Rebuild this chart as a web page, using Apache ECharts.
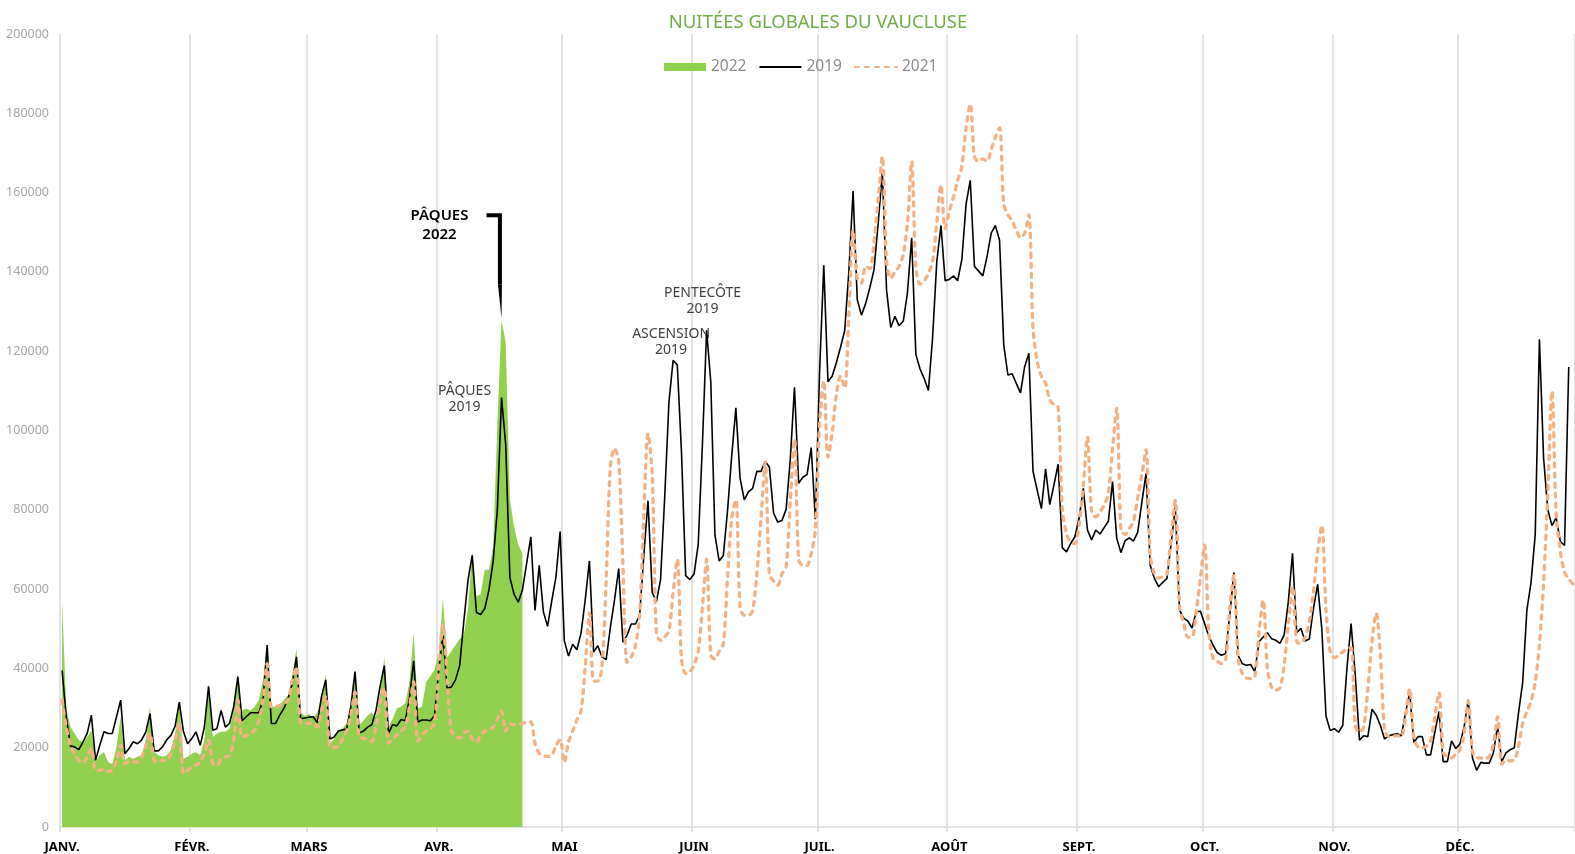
<!DOCTYPE html>
<html><head><meta charset="utf-8">
<script src="https://cdn.jsdelivr.net/npm/echarts@6.0.0/dist/echarts.min.js"></script>
<style>html,body{margin:0;padding:0;background:#fff}#c{width:1575px;height:854px}</style>
</head><body><div id="c"></div>
<script>
const monthLabels = ['JANV.','FÉVR.','MARS','AVR.','MAI','JUIN','JUIL.','AOÛT','SEPT.','OCT.','NOV.','DÉC.'];
const monthStart = [0,31,59,90,120,151,181,212,243,273,304,334];
const nDays = 362;

const values2022 = [
57000,30000,25200,23600,21900,21500,22700,
24400,16400,18100,18900,16400,15800,20200,
27800,16800,17700,17200,17700,18100,21900,
30300,18900,18100,17700,18100,19400,23600,
31100,17200,17700,18500,18900,18100,21900,
35800,22700,23600,24000,24000,24800,29400,
38700,29400,29900,29400,30300,32000,37000,
45000,30300,30300,30700,32000,33200,37900,
45000,29000,28000,28500,27500,28900,32500,
38600,21100,22200,24200,24700,26300,30400,
38600,25800,26800,28100,28900,27800,33500,
42800,25200,27300,29900,30400,31200,36600,
49000,29900,30400,36600,38100,39700,43800,
57700,42800,44300,45900,47400,48400,55100,
69600,58200,58700,64900,64900,70600,101500,
127800,122100,82400,75800,71100,69000
];

const values2019 = [
39500,27800,20400,20200,19500,21500,23600,
28200,16800,20600,24000,23600,23600,27800,
32000,18500,19800,21500,21000,21900,24000,
28600,19200,19200,20200,22000,23100,25400,
31500,24000,21000,22300,24000,20600,25200,
35500,24400,24800,29400,25200,26100,30300,
37900,26800,27800,28800,28800,28800,32000,
45900,26100,26100,28200,29900,32400,36200,
42900,27300,27500,27700,27800,26300,33000,
37100,22200,22700,24200,24500,24700,30400,
39200,23700,24200,25200,25800,29400,35600,
40700,23700,25800,25500,27100,26800,32500,
41900,26500,27000,27000,26800,28100,39700,
48400,35000,35300,37100,40700,52000,62300,
68500,54100,53600,55100,59800,67000,80000,
108300,96400,62900,58700,56700,59800,66500,
73200,54600,66000,54300,50600,57000,63000,
74500,47000,43100,46100,44700,48900,57300,
67100,44100,45700,42900,42200,50300,57300,
65200,46600,48400,51200,51200,53400,68500,
82300,59200,56800,62400,83400,107100,117700,
116500,94600,63400,62400,63800,71300,96400,
125300,112300,73600,67100,68500,79700,93600,
105700,88000,82500,84500,85400,89700,89700,
92200,90800,79200,76900,77300,80100,92700,
110900,86700,88200,88900,95700,77600,115000,
141700,112300,113700,117100,121000,125200,140200,
160400,133000,129100,132000,136000,140500,152300,
165300,135400,126000,128800,126400,127600,134800,
148600,119200,115500,113100,110100,123400,142600,
151700,137800,138100,139000,137800,143200,157100,
163100,141400,140200,139000,143800,149800,151700,
148000,121600,114000,114300,111900,109500,116100,
119500,89700,84900,80300,90300,81300,86300,
91500,70400,69400,71500,73200,77800,85400,
74900,72400,74900,73900,75500,77100,87100,
72800,69200,72200,72900,72100,74300,81900,
89200,66000,62700,60600,61700,62700,71500,
80800,54700,52700,51900,50200,54300,54400,
51300,48200,45900,44000,43300,43700,53400,
64200,43300,41200,40800,41000,39100,46700,
47900,49000,47500,47100,46300,48400,56800,
69000,49000,50100,46900,47400,55100,61200,
50000,28000,24300,24800,23900,25600,40000,
51300,38200,21900,23000,22800,29700,28200,
25600,22200,23000,23300,23500,23000,28700,
33900,21300,22800,22800,18200,18200,23900,
29100,16500,16500,21700,19800,20900,25200,
32100,17400,14300,16300,16100,16100,18700,
25600,16500,18700,19500,20000,28700,36500,
54700,61700,73800,123000,93000,80000,76000,
78000,72000,71000,116000
];

const values2021 = [
32000,25200,20600,18500,16800,16200,17700,
19800,14300,14300,14700,14100,14300,16800,
20600,16000,16400,16400,16400,17700,20200,
23600,16800,16400,16800,16800,18500,21900,
26100,13500,14300,15100,15600,16400,18500,
21900,16000,15600,17200,17700,18100,21900,
32000,22700,23100,23600,24400,26900,32000,
41200,30300,30300,30700,31100,32000,37000,
40400,26300,26100,26100,26300,25200,29400,
33000,20100,20100,20300,22200,24200,28300,
34000,22700,22400,22000,21600,25200,31400,
35000,21100,22200,23200,24200,25200,30400,
36600,21600,23200,24200,24700,26300,39700,
51000,37600,24200,23000,22400,23700,24200,
22200,21300,23200,24200,24700,25200,27300,
29200,24200,26000,25800,26000,26100,26500,
26500,21100,18600,18000,17800,18000,20500,
22000,16300,21400,24200,27000,29300,40500,
54000,36800,36800,40500,62000,90800,95500,
92200,66600,41500,42900,45700,53600,78700,
99200,89000,48900,47000,48000,49400,59200,
67500,42400,38700,39100,41000,44300,55400,
67500,43300,42400,44300,46100,62900,77800,
82500,55400,53400,53400,54500,63800,77800,
92000,63800,62000,61000,63800,65700,82500,
97800,67500,66000,66000,69000,75000,101700,
112500,93300,99300,108900,113700,110700,129400,
150500,138400,137200,141400,140800,147400,158300,
169100,142600,138400,140000,141400,144400,152300,
167900,141400,136900,137800,139600,142600,152300,
161900,151000,155300,158900,163100,166700,176300,
182300,169100,167900,168500,167900,170900,173900,
176300,157100,154400,152900,150500,148600,149800,
154400,125800,117400,113700,111900,107700,106500,
105900,80000,74000,71800,71500,76100,86200,
98400,79500,78200,79500,81200,84100,95500,
105600,74900,73800,75300,77000,82900,88800,
95100,68600,63900,62800,63100,63900,73600,
82400,55900,51300,47900,47900,54300,62700,
71100,49200,42600,41800,41200,42100,55100,
63500,42500,38700,37600,37400,37900,49200,
57200,40000,35300,34500,35100,40800,50900,
60600,46700,46300,47900,51700,59300,69400,
76100,55000,44300,42700,43300,44100,45000,
45200,25600,23900,25200,34800,46900,53900,
43400,24500,22800,23000,23000,22800,27800,
34800,22400,20200,20000,20400,21700,27800,
33900,18700,17800,17400,18400,19500,23500,
31700,19100,17500,17400,17200,17800,20900,
27800,15800,16900,16700,16900,20400,26100,
29100,31700,36500,46000,61700,84300,109900,
79100,69500,64300,62600,61300
];

const categories = [];
for (let i = 0; i < nDays; i++) {
  const d = new Date(2021, 0, 1 + i);
  categories.push(String(d.getDate()).padStart(2,'0') + '/' + String(d.getMonth()+1).padStart(2,'0'));
}
const isMonthStart = (i) => monthStart.indexOf(i) >= 0;

const FONT = '"Noto Sans", "DejaVu Sans", sans-serif';
const chart = echarts.init(document.getElementById('c'), null, {renderer: 'canvas'});
const option = {
  animation: false,
  backgroundColor: '#ffffff',
  title: {
    text: 'NUITÉES GLOBALES DU VAUCLUSE',
    left: 813, textAlign: 'center', top: 8,
    textStyle: {color: '#70AD47', fontSize: 18.5, fontWeight: 'normal', fontFamily: FONT}
  },
  legend: {
    left: 659, top: 54,
    itemWidth: 42, itemHeight: 8, itemGap: 12,
    textStyle: {color: '#8A8A8A', fontSize: 15.5, fontFamily: FONT},
    data: [
      {name: '2022', icon: 'rect'},
      {name: '2019', itemStyle: {opacity: 0}},
      {name: '2021', itemStyle: {opacity: 0}}
    ]
  },
  grid: {left: 60, right: 0, top: 34, bottom: 27, containLabel: false, outerBoundsMode: 'none'},
  xAxis: {
    type: 'category', data: categories, boundaryGap: true,
    axisLine: {show: true, lineStyle: {color: '#D9D9D9', width: 1.5}},
    axisTick: {show: true, interval: (i) => isMonthStart(i), length: 5, lineStyle: {color: '#D9D9D9', width: 1.5}},
    axisLabel: {
      interval: (i) => isMonthStart(i),
      formatter: (v, i) => monthLabels[monthStart.indexOf(i)] || '',
      color: '#000', fontWeight: 'bold', fontSize: 13, fontFamily: FONT, margin: 14
    },
    splitLine: {show: true, interval: (i) => isMonthStart(i), lineStyle: {color: '#D9D9D9', width: 1.5}}
  },
  yAxis: {
    type: 'value', min: 0, max: 200000, interval: 20000,
    axisLine: {show: false}, axisTick: {show: false}, splitLine: {show: false},
    axisLabel: {formatter: (v) => String(v), color: '#A6A6A6', fontSize: 12.5, fontFamily: FONT, margin: 11}
  },
  series: [
    {name: '2022', type: 'line', data: values2022, symbol: 'none', z: 1,
     lineStyle: {width: 0, color: '#92D050'}, itemStyle: {color: '#92D050'},
     areaStyle: {color: '#92D050', opacity: 1}},
    {name: '2019', type: 'line', data: values2019, symbol: 'none', z: 2,
     lineStyle: {color: '#000000', width: 1.6}, itemStyle: {color: '#000000'}},
    {name: '2021', type: 'line', data: values2021, symbol: 'none', z: 3, smooth: 0.3,
     lineStyle: {color: '#F4B183', width: 3.3, type: [4, 6], cap: 'round'}, itemStyle: {color: '#F4B183'}}
  ]
};
chart.setOption(option);

function px(i, v) { return chart.convertToPixel({gridIndex: 0}, [i, v]); }
const pk22 = px(105, values2022[105]);
const pk19 = px(105, values2019[105]);
const asc = px(146, values2019[146]);
const pen = px(154, values2019[154]);
const noteStyle = {fill: '#404040', font: '14px ' + FONT, align: 'center', verticalAlign: 'middle', lineHeight: 16};
chart.setOption({
  graphic: [
    {type: 'text', x: pk22[0] - 62, y: pk22[1] - 95,
     style: {text: 'PÂQUES\n2022', fill: '#000', font: '600 15px ' + FONT, align: 'center', verticalAlign: 'middle', lineHeight: 19}},
    {type: 'polyline', shape: {points: [[pk22[0] - 15, pk22[1] - 105], [pk22[0] - 1.6, pk22[1] - 105], [pk22[0] - 1.6, pk22[1] - 36]]},
     style: {stroke: '#000', lineWidth: 4, fill: null}},
    {type: 'polygon', shape: {points: [[pk22[0] - 3.6, pk22[1] - 36], [pk22[0] + 0.4, pk22[1] - 36], [pk22[0], pk22[1] - 2]]},
     style: {fill: '#000'}},
    {type: 'text', x: pk19[0] - 37, y: pk19[1] + 1, style: Object.assign({text: 'PÂQUES\n2019'}, noteStyle)},
    {type: 'text', x: asc[0] - 2, y: asc[1] - 18, style: Object.assign({text: 'ASCENSION\n2019'}, noteStyle)},
    {type: 'text', x: pen[0] - 4, y: pen[1] - 29, style: Object.assign({text: 'PENTECÔTE\n2019'}, noteStyle)}
  ]
});
</script>
</body></html>
